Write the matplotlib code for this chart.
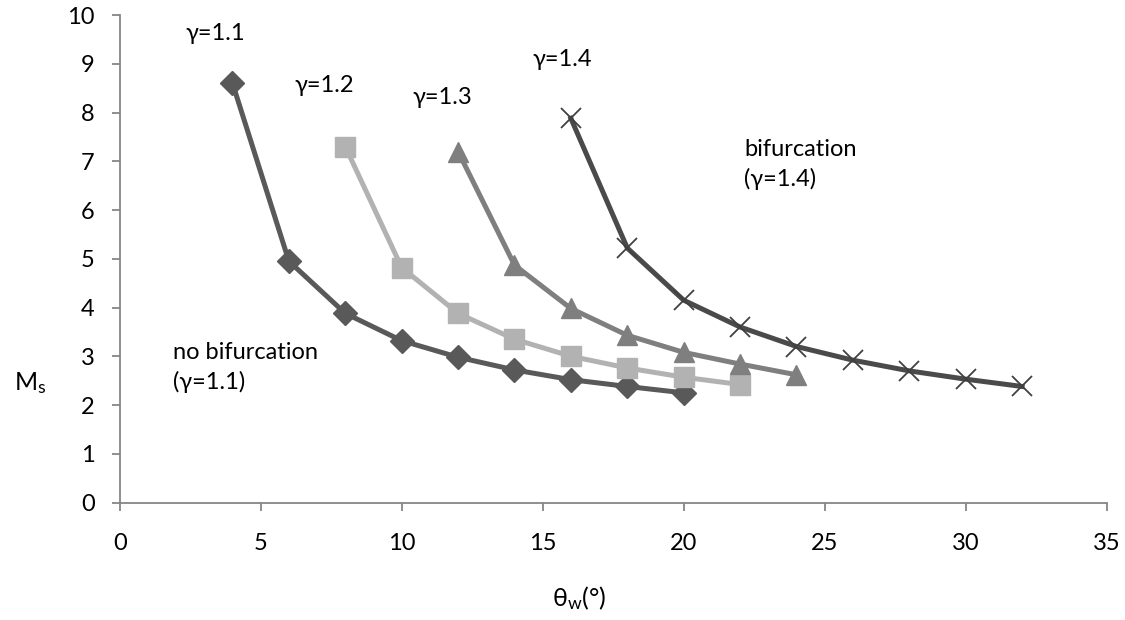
import matplotlib
matplotlib.use("Agg")
import matplotlib.pyplot as plt

plt.rcParams['font.family'] = ['Lato', 'DejaVu Sans']
plt.rcParams['mathtext.default'] = 'regular'

x_g11 = [4, 6, 8, 10, 12, 14, 16, 18, 20]
y_g11 = [8.6, 4.95, 3.88, 3.32, 2.98, 2.72, 2.52, 2.38, 2.25]

x_g12 = [8, 10, 12, 14, 16, 18, 20, 22]
y_g12 = [7.3, 4.82, 3.88, 3.35, 3.0, 2.76, 2.57, 2.42]

x_g13 = [12, 14, 16, 18, 20, 22, 24]
y_g13 = [7.2, 4.87, 3.98, 3.43, 3.08, 2.84, 2.62]

x_g14 = [16, 18, 20, 22, 24, 26, 28, 30, 32]
y_g14 = [7.88, 5.22, 4.15, 3.6, 3.2, 2.92, 2.7, 2.53, 2.38]

x_ticks = [0, 5, 10, 15, 20, 25, 30, 35]
y_ticks = list(range(0, 11))

fig = plt.figure(figsize=(11.25, 6.2), dpi=100)
ax = fig.add_axes([0.1064, 0.1895, 0.8773, 0.7863])

lw = 3.6
ax.plot(x_g11, y_g11, color='#595959', lw=lw, marker='D', ms=12, mfc='#595959', mec='#595959', zorder=3)
ax.plot(x_g12, y_g12, color='#b2b2b2', lw=lw, marker='s', ms=14, mfc='#b2b2b2', mec='#b2b2b2', zorder=3)
ax.plot(x_g13, y_g13, color='#7f7f7f', lw=lw, marker='^', ms=14, mfc='#7f7f7f', mec='#7f7f7f', zorder=3)
ax.plot(x_g14, y_g14, color='#4a4a4a', lw=lw, marker='x', ms=14, mew=1.3, mec='#404040', zorder=4)

ax.set_xlim(0, 35)
ax.set_ylim(0, 10)
ax.set_xticks(x_ticks)
ax.set_yticks(y_ticks)

for s in ['top', 'right']:
    ax.spines[s].set_visible(False)
for s in ['left', 'bottom']:
    ax.spines[s].set_color('#868686')
    ax.spines[s].set_linewidth(1.3)
ax.tick_params(axis='both', direction='out', length=6, width=1.3, color='#868686',
               labelsize=17, labelcolor='black')
ax.tick_params(axis='x', pad=16)
ax.tick_params(axis='y', pad=12)

fs = 17
ax.text(3.4, 9.62, 'γ=1.1', fontsize=fs, ha='center', va='center')
ax.text(7.25, 8.55, 'γ=1.2', fontsize=fs, ha='center', va='center')
ax.text(11.45, 8.3, 'γ=1.3', fontsize=fs, ha='center', va='center')
ax.text(15.7, 9.08, 'γ=1.4', fontsize=fs, ha='center', va='center')
ax.text(22.15, 6.93, 'bifurcation\n(γ=1.4)', fontsize=fs, ha='left', va='center', linespacing=1.45)
ax.text(1.88, 2.77, 'no bifurcation\n(γ=1.1)', fontsize=fs, ha='left', va='center', linespacing=1.45)

fig.text(30/1125, 1 - 383/620, '$M_s$', fontsize=18, ha='center', va='center')
fig.text(579/1125, 1 - 598/620, '$θ_w$(°)', fontsize=18, ha='center', va='center')

fig.savefig('out.png', dpi=100)
